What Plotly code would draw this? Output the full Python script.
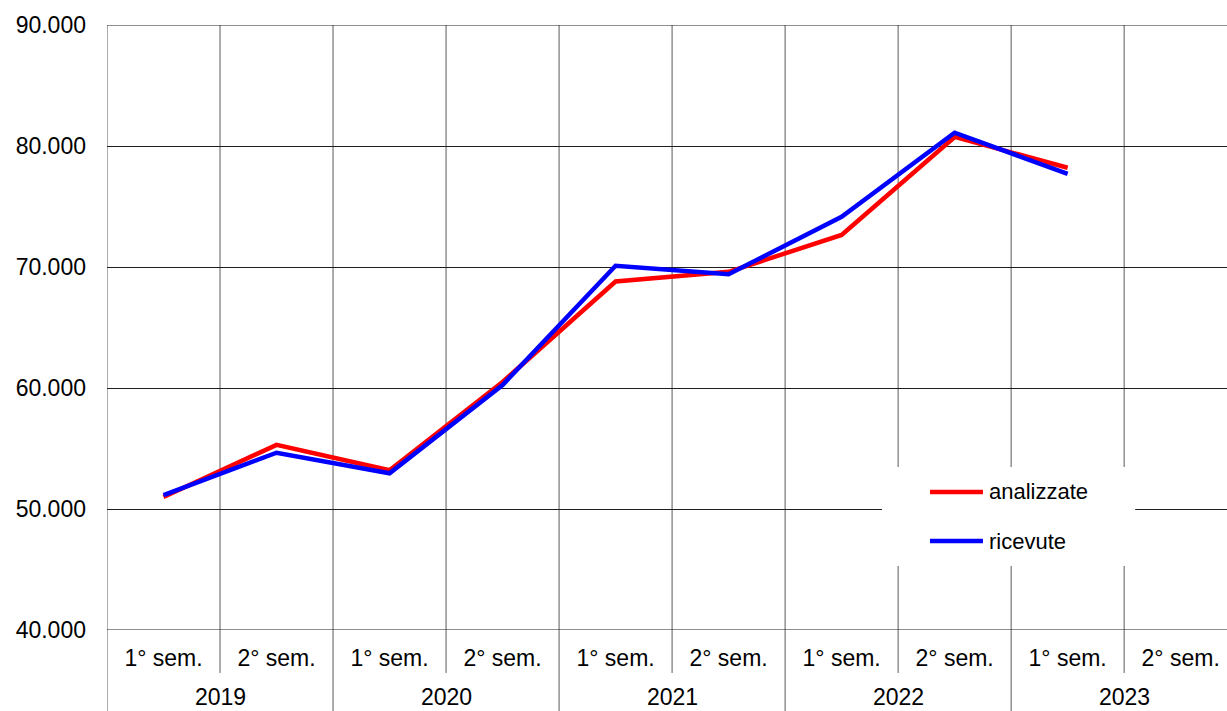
import plotly.graph_objects as go

# Half-year periods and series
anni = ["2019", "2020", "2021", "2022", "2023"]
semestri = ["1° sem.", "2° sem."]
periodi = [f"{s} {a}" for a in anni for s in semestri]

analizzate = [50990, 55300, 53200, 60500, 68800, 69600, 72650, 80750, 78200]
ricevute = [51150, 54650, 52950, 60250, 70100, 69400, 74150, 81100, 77700]

serie = [
    ("analizzate", analizzate, "#ff0000"),
    ("ricevute", ricevute, "#0000ff"),
]

y_ticks = [40000, 50000, 60000, 70000, 80000, 90000]

FONT = "Liberation Sans, Arial, sans-serif"
FS = 23

fig = go.Figure()
for nome, valori, colore in serie:
    fig.add_trace(go.Scatter(
        x=list(range(len(valori))), y=valori, mode="lines", name=nome,
        line=dict(color=colore, width=4.5), showlegend=False,
    ))

n = len(periodi)
shapes = []
# vertical separators: every half-year in the plot, years also through the labels
for k in range(n + 1):
    xb = k - 0.5
    bottom = -0.16 if k % 2 == 0 else -0.071
    shapes.append(dict(type="line", xref="x", yref="paper", x0=xb, x1=xb,
                       y0=1, y1=bottom, line=dict(color="#5a5a5a", width=1),
                       layer="below"))
# top and bottom edges of the value grid
for yv in (y_ticks[0], y_ticks[-1]):
    shapes.append(dict(type="line", xref="paper", yref="y", x0=0, x1=1,
                       y0=yv, y1=yv, line=dict(color="#1e1e1e", width=1),
                       layer="below"))

# legend panel
shapes.append(dict(type="rect", xref="paper", yref="paper", x0=0.692, x1=0.918,
                   y0=0.1058, y1=0.2694, fillcolor="white", line=dict(width=0),
                   layer="above"))
annotations = []
leg_y = [0.2281, 0.1471]
for (nome, _, colore), ly in zip(serie, leg_y):
    shapes.append(dict(type="line", xref="paper", yref="paper", x0=0.7348, x1=0.7821,
                       y0=ly, y1=ly, line=dict(color=colore, width=4.5), layer="above"))
    annotations.append(dict(text=nome, xref="paper", yref="paper", x=0.7857, y=ly,
                            xanchor="left", yanchor="middle", showarrow=False,
                            font=dict(family=FONT, size=FS - 1, color="black")))

# year labels under the half-year labels
for i, a in enumerate(anni):
    annotations.append(dict(text=a, xref="x", yref="paper", x=2 * i + 0.5, y=-0.1107,
                            xanchor="center", yanchor="middle", showarrow=False,
                            font=dict(family=FONT, size=FS, color="black")))

fig.update_layout(
    width=1227, height=711,
    margin=dict(l=107, r=0, t=25, b=81),
    paper_bgcolor="white", plot_bgcolor="white",
    separators=",.",
    font=dict(family=FONT, size=FS, color="black"),
    shapes=shapes, annotations=annotations,
    xaxis=dict(
        range=[-0.5, 9.41], tickmode="array", tickvals=list(range(n)),
        ticktext=[p.split(" 20")[0] for p in periodi],
        showgrid=False, zeroline=False, showline=False, ticks="",
        ticklabelstandoff=12, tickfont=dict(family=FONT, size=FS, color="black"),
    ),
    yaxis=dict(
        range=[40000, 90000], tickvals=y_ticks, tickformat=",d",
        showgrid=True, gridcolor="#1e1e1e", gridwidth=1,
        zeroline=False, showline=False, ticks="", ticklabelstandoff=20,
        tickfont=dict(family=FONT, size=FS, color="black"),
    ),
)

fig.write_html("out.html")
